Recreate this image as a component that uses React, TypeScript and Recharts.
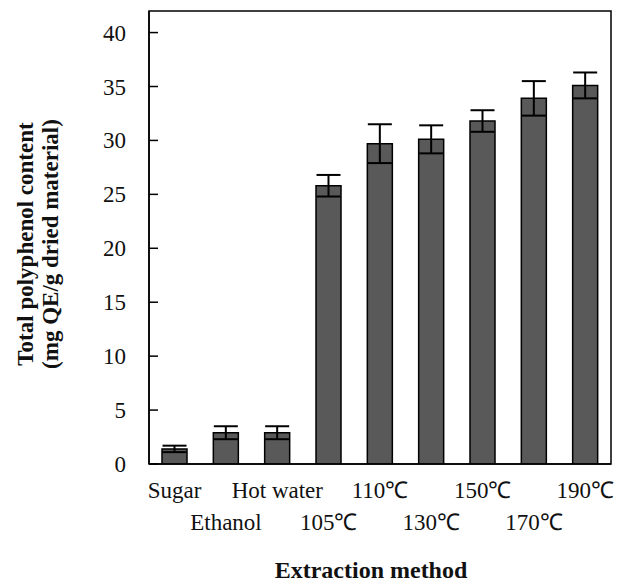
import { ComposedChart, Bar, ErrorBar, XAxis, YAxis, ReferenceArea, Label } from "recharts";

const methods = ["Sugar", "Ethanol", "Hot water", "105℃", "110℃", "130℃", "150℃", "170℃", "190℃"];
const polyphenol = [1.4, 2.9, 2.9, 25.8, 29.7, 30.1, 31.8, 33.9, 35.1];
const stdDev = [0.3, 0.6, 0.6, 1.0, 1.8, 1.3, 1.0, 1.6, 1.2];
const yTicks = [0, 5, 10, 15, 20, 25, 30, 35, 40];

const FONT = "'Liberation Serif', 'Times New Roman', serif";

const data = methods.map((m, i) => ({ method: m, value: polyphenol[i], err: stdDev[i] }));

function XTick(props: any) {
  const { x, y, payload, index } = props;
  const lower = index % 2 === 1;
  return (
    <text
      x={x}
      y={y + (lower ? 66 : 34)}
      textAnchor="middle"
      fontFamily={FONT}
      fontSize={23}
      fill="#111"
    >
      {payload.value}
    </text>
  );
}

function YTick(props: any) {
  const { x, y, payload } = props;
  return (
    <g>
      <line x1={x} x2={x + 9} y1={y} y2={y} stroke="#000" strokeWidth={1.5} />
      <text x={x - 23} y={y + 8} textAnchor="end" fontFamily={FONT} fontSize={23} fill="#111">
        {payload.value}
      </text>
    </g>
  );
}

function YTitle() {
  return (
    <g transform="translate(0, 244) rotate(-90)" fontFamily={FONT} fontWeight="bold" fontSize={23} fill="#111">
      <text x={0} y={33} textAnchor="middle">Total polyphenol content</text>
      <text x={0} y={58} textAnchor="middle">(mg QE/g dried material)</text>
    </g>
  );
}

function XTitle(props: any) {
  const vb = props.viewBox;
  return (
    <text
      x={vb.x + vb.width / 2 - 9}
      y={578}
      textAnchor="middle"
      fontFamily={FONT}
      fontWeight="bold"
      fontSize={24}
      fill="#111"
    >
      Extraction method
    </text>
  );
}

export default function App() {
  return (
    <div style={{ position: "absolute", left: 0, top: 0, background: "#fff" }}>
      <ComposedChart
        width={632}
        height={585}
        data={data}
        margin={{ top: 11, right: 21, bottom: 0, left: 0 }}
      >
        <XAxis
          dataKey="method"
          height={121}
          interval={0}
          tickLine={false}
          tickSize={0}
          tickMargin={0}
          axisLine={{ stroke: "#000", strokeWidth: 1.5 }}
          tick={<XTick />}
        >
          <Label content={<XTitle />} />
        </XAxis>
        <YAxis
          width={149}
          domain={[0, 42]}
          ticks={yTicks}
          allowDataOverflow
          tickLine={false}
          tickSize={0}
          tickMargin={0}
          axisLine={{ stroke: "#000", strokeWidth: 1.5 }}
          tick={<YTick />}
        >
          <Label content={<YTitle />} />
        </YAxis>
        <ReferenceArea y1={0} y2={42} fill="none" stroke="#000" strokeWidth={1.5} fillOpacity={0} />
        <Bar dataKey="value" barSize={25} fill="#595959" stroke="#000" strokeWidth={1.5} isAnimationActive={false}>
          <ErrorBar dataKey="err" width={12} stroke="#000" strokeWidth={2} />
        </Bar>
      </ComposedChart>
    </div>
  );
}
